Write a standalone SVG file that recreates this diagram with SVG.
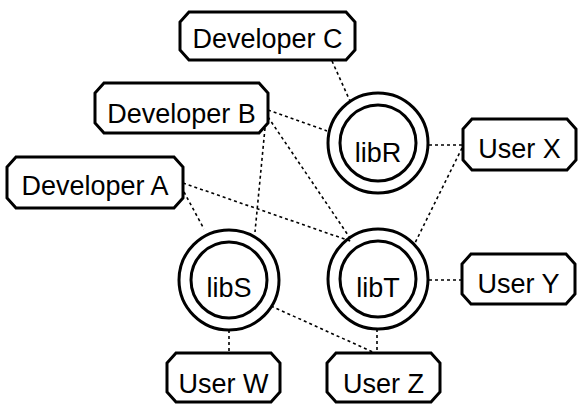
<svg xmlns="http://www.w3.org/2000/svg" width="581" height="406" viewBox="0 0 581 406">
<style>
.box{fill:#fff;stroke:#000;stroke-width:3;stroke-linejoin:miter}
.ring{fill:none;stroke:#000;stroke-width:3}
.lbl{font-family:"Liberation Sans",Arial,sans-serif;font-size:27px;fill:#000;text-anchor:middle}
.edge{fill:none;stroke:#000;stroke-width:1.6;stroke-dasharray:3 3}
</style>
<rect width="581" height="406" fill="#fff"/>
<g id="connectors">
<line class="edge" x1="332" y1="61" x2="350" y2="101"/>
<line class="edge" x1="268" y1="110" x2="327" y2="131"/>
<line class="edge" x1="268" y1="117" x2="350" y2="238"/>
<line class="edge" x1="265" y1="128" x2="255" y2="232"/>
<line class="edge" x1="183" y1="183" x2="353" y2="242"/>
<line class="edge" x1="184" y1="192" x2="204" y2="229"/>
<line class="edge" x1="429" y1="145" x2="463" y2="145"/>
<line class="edge" x1="462" y1="148" x2="415" y2="243"/>
<line class="edge" x1="429" y1="280" x2="462" y2="280"/>
<line class="edge" x1="229" y1="330" x2="229" y2="353"/>
<line class="edge" x1="377" y1="329" x2="377" y2="353"/>
<line class="edge" x1="271" y1="306" x2="375" y2="353"/>
</g>
<g id="devC"><polygon class="box" points="189,12 346,12 355,22 355,50 346,60 189,60 180,50 180,22"/><text class="lbl" x="267.5" y="48">Developer C</text></g>
<g id="devB"><polygon class="box" points="104,83 259,83 268,93 268,123 259,133 104,133 95,123 95,93"/><text class="lbl" x="181.5" y="123">Developer B</text></g>
<g id="devA"><polygon class="box" points="16,157 174,157 183,167 183,198 174,208 16,208 7,198 7,167"/><text class="lbl" x="95" y="195">Developer A</text></g>
<g id="libR"><circle class="ring" cx="378" cy="143" r="50"/><circle class="ring" cx="378" cy="143" r="38"/><text class="lbl" x="378" y="162">libR</text></g>
<g id="libS"><circle class="ring" cx="229" cy="280" r="50"/><circle class="ring" cx="229" cy="280" r="38"/><text class="lbl" x="229" y="297">libS</text></g>
<g id="libT"><circle class="ring" cx="378" cy="279" r="50"/><circle class="ring" cx="378" cy="279" r="38"/><text class="lbl" x="378" y="297">libT</text></g>
<g id="userX"><polygon class="box" points="472,119 567,119 576,129 576,160 567,170 472,170 463,160 463,129"/><text class="lbl" x="519.5" y="158">User X</text></g>
<g id="userY"><polygon class="box" points="471,254 566,254 575,264 575,294 566,304 471,304 462,294 462,264"/><text class="lbl" x="518.5" y="293">User Y</text></g>
<g id="userW"><polygon class="box" points="176,353 271,353 280,363 280,392 271,402 176,402 167,392 167,363"/><text class="lbl" x="223.5" y="393">User W</text></g>
<g id="userZ"><polygon class="box" points="336,353 431,353 440,363 440,392 431,402 336,402 327,392 327,363"/><text class="lbl" x="383.5" y="393">User Z</text></g>
</svg>
